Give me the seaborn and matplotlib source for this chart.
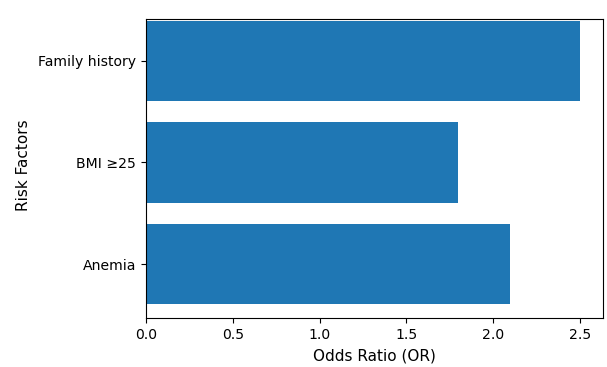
import matplotlib
matplotlib.use("Agg")
import matplotlib.pyplot as plt
import seaborn as sns
import pandas as pd

factors = ["Family history", "BMI \u226525", "Anemia"]
odds_ratios = [2.5, 1.8, 2.1]

df = pd.DataFrame({"Risk Factors": factors, "Odds Ratio (OR)": odds_ratios})

fig = plt.figure(figsize=(6.07, 3.67), dpi=100)
ax = fig.add_axes([146 / 607, 1 - 318 / 367, (603 - 146) / 607, (318 - 19) / 367])
sns.barplot(data=df, y="Risk Factors", x="Odds Ratio (OR)", orient="h",
            color="#1f77b4", saturation=1, width=0.79, ax=ax, errorbar=None)
ax.set_xlim(0, 2.633)
ax.set_ylim(2.53, -0.41)
ax.set_xlabel("Odds Ratio (OR)", fontsize=11, labelpad=5)
ax.set_ylabel("Risk Factors", fontsize=11, labelpad=8)
ax.yaxis.set_label_coords(-0.252, 0.51)
ax.tick_params(labelsize=10.1)
fig.savefig("out.png", dpi=100)
